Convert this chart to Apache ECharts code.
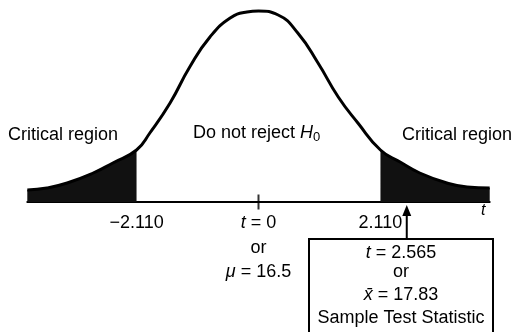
<!DOCTYPE html>
<html>
<head>
<meta charset="utf-8">
<script src="https://cdn.jsdelivr.net/npm/echarts@6/dist/echarts.min.js"></script>
<style>
  html, body { margin: 0; padding: 0; background: #fff; }
  #chart { width: 512px; height: 332px; }
</style>
</head>
<body>
<div id="chart"></div>
<script>
// t-distribution curve, sampled (t value, curve height)
const curveT = [-4.0, -3.66, -3.31, -2.86, -2.52, -2.11, -1.88, -1.53, -1.19, -0.84, -0.49, -0.2, 0,
                0.34, 0.68, 1.03, 1.38, 1.72, 2.11, 2.45, 2.79, 3.26, 3.61, 4.0];
const curveH = [12, 14, 19, 29, 39, 52, 69, 99, 135, 165, 184, 190, 191,
                187, 169, 139, 105, 79, 52, 40, 29, 19, 15, 14];

// critical value and observed test statistic
const criticalT = 2.11;
const testT = 2.565;

// tick labels on the t axis
const tickValues = [-2.11, 0, 2.11];
const tickLabels = ['\u22122.110', '{i|t} = 0\nor\n{i|\u03bc} = 16.5', '2.110'];

const FONT = '"Liberation Sans", Arial, Helvetica, sans-serif';
const FS = 18;

const curve = curveT.map((t, i) => [t, curveH[i]]);
const leftTail = curve.filter(p => p[0] <= -criticalT);
const rightTail = curve.filter(p => p[0] >= criticalT);

const chart = echarts.init(document.getElementById('chart'), null, { renderer: 'canvas' });

const tailSeries = (data) => ({
  type: 'line',
  data: data,
  smooth: 0.5,
  symbol: 'none',
  clip: false,
  lineStyle: { width: 0 },
  areaStyle: { color: '#111', opacity: 1 },
  silent: true,
  z: 2
});

const italicRich = { fontStyle: 'italic', fontSize: FS, fontFamily: FONT, fill: '#000' };

chart.setOption({
  animation: false,
  backgroundColor: '#fff',
  grid: { left: 27.3, right: 22.3, top: 12, bottom: 130, containLabel: false, outerBoundsMode: 'none' },
  xAxis: {
    type: 'value',
    min: -4,
    max: 4,
    axisLine: { lineStyle: { color: '#000', width: 2 } },
    axisTick: { show: false },
    splitLine: { show: false },
    axisLabel: {
      customValues: tickValues,
      margin: 9,
      color: '#000',
      fontFamily: FONT,
      fontSize: FS,
      lineHeight: 24.5,
      formatter: (v) => tickLabels[tickValues.indexOf(v)],
      rich: {
        i: { fontStyle: 'italic', fontFamily: FONT, fontSize: FS, lineHeight: 24.5, color: '#000' }
      }
    }
  },
  yAxis: {
    type: 'value',
    min: 0,
    max: 190,
    show: false
  },
  series: [
    tailSeries(leftTail),
    tailSeries(rightTail),
    {
      type: 'line',
      data: curve,
      smooth: 0.5,
      symbol: 'none',
      clip: false,
      lineStyle: { color: '#000', width: 3 },
      silent: true,
      z: 3
    },
    {
      // tick at the centre of the distribution
      type: 'scatter',
      data: [[0, 0]],
      symbol: 'rect',
      symbolSize: [2, 15],
      clip: false,
      itemStyle: { color: '#000' },
      silent: true,
      z: 4
    }
  ]
});

// annotation: arrow from the statistic box up to the observed t on the axis
const base = chart.convertToPixel({ xAxisIndex: 0, yAxisIndex: 0 }, [testT, 0]);
const ax = base[0], ay = base[1];
const boxTop = 239;

chart.setOption({
  graphic: [
    {
      type: 'text', left: 8, top: 126,
      style: { text: 'Critical region', font: FS + 'px ' + FONT, fill: '#000' }
    },
    {
      type: 'text', left: 402, top: 126,
      style: { text: 'Critical region', font: FS + 'px ' + FONT, fill: '#000' }
    },
    {
      type: 'text', left: 193, top: 124,
      style: {
        text: 'Do not reject {i|H}{s|0}',
        font: FS + 'px ' + FONT, fill: '#000',
        rich: {
          i: italicRich,
          s: { fontSize: 13, fontFamily: FONT, fill: '#000', padding: [8, 0, 0, 0] }
        }
      }
    },
    {
      type: 'text', left: 481, top: 203,
      style: { text: 't', font: 'italic 16px ' + FONT, fill: '#000' }
    },
    {
      type: 'line',
      shape: { x1: ax, y1: boxTop, x2: ax, y2: ay + 10 },
      style: { stroke: '#000', lineWidth: 2 },
      z: 9
    },
    {
      type: 'polygon',
      shape: { points: [[ax, ay + 3], [ax - 4.5, ay + 14], [ax + 4.5, ay + 14]] },
      style: { fill: '#000' },
      z: 9
    },
    {
      type: 'rect',
      shape: { x: 309, y: boxTop, width: 184, height: 110 },
      style: { fill: '#fff', stroke: '#000', lineWidth: 2 },
      z: 10
    },
    {
      type: 'text', x: 401, y: 253, z: 11,
      style: {
        text: '{i|t} = 2.565', align: 'center', verticalAlign: 'middle',
        font: FS + 'px ' + FONT, fill: '#000',
        rich: { i: italicRich }
      }
    },
    {
      type: 'text', x: 401, y: 272, z: 11,
      style: { text: 'or', align: 'center', verticalAlign: 'middle', font: FS + 'px ' + FONT, fill: '#000' }
    },
    {
      type: 'text', x: 401, y: 295, z: 11,
      style: {
        text: '{i|x\u0304} = 17.83', align: 'center', verticalAlign: 'middle',
        font: FS + 'px ' + FONT, fill: '#000',
        rich: { i: italicRich }
      }
    },
    {
      type: 'text', x: 401, y: 318, z: 11,
      style: { text: 'Sample Test Statistic', align: 'center', verticalAlign: 'middle', font: FS + 'px ' + FONT, fill: '#000' }
    }
  ]
});
</script>
</body>
</html>
